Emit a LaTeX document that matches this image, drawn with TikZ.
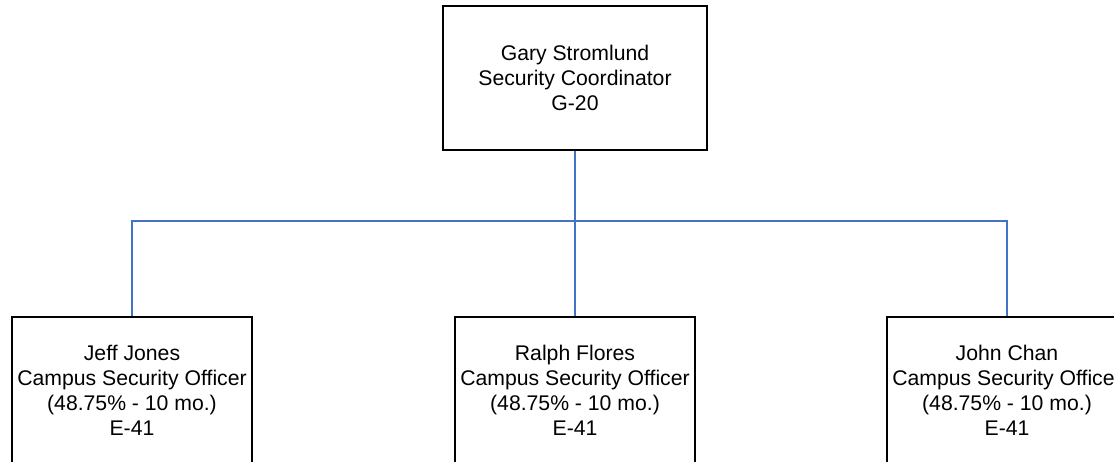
\documentclass[tikz,border=0pt]{standalone}
\usepackage{fontspec}
\setmainfont{Liberation Sans}
\usepackage{tikz}
\usetikzlibrary{positioning}
\usepackage{xcolor}
\definecolor{orgblue}{RGB}{68,114,196}
\tikzstyle{link} = [line width=1pt, color=orgblue]
\tikzstyle{postbox} = [rectangle, draw=black, line width=1pt, inner sep=0pt, text centered, align=center, minimum height=72pt, font=\fontsize{10.6}{12.5}\selectfont]

\begin{document}
\begin{tikzpicture}[x=0.5pt, y=-0.5pt]
    \path[use as bounding box] (0,0) rectangle (1114,461);
    \clip (0,0) rectangle (1114,461);

    % Coordinator
    \node[postbox, minimum width=132pt] (gary) at (575,78) {Gary Stromlund\\Security Coordinator\\G-20};

    % Officers
    \node[postbox, minimum width=120pt, minimum height=73pt] (jeff) at (132,390) {Jeff Jones\\Campus Security Officer\\(48.75\% - 10 mo.)\\E-41};
    \node[postbox, minimum width=120pt, minimum height=73pt] (ralph) at (575,390) {Ralph Flores\\Campus Security Officer\\(48.75\% - 10 mo.)\\E-41};
    \node[postbox, minimum width=120pt, minimum height=73pt] (john) at (1007,390) {John Chan\\Campus Security Officer\\(48.75\% - 10 mo.)\\E-41};

    % Lines
    \coordinate (bus) at (575,221);
    \draw[link] (gary) -- (bus);
    \draw[link] (bus) -| (jeff);
    \draw[link] (bus) -- (ralph);
    \draw[link] (bus) -| (john);
\end{tikzpicture}
\end{document}
